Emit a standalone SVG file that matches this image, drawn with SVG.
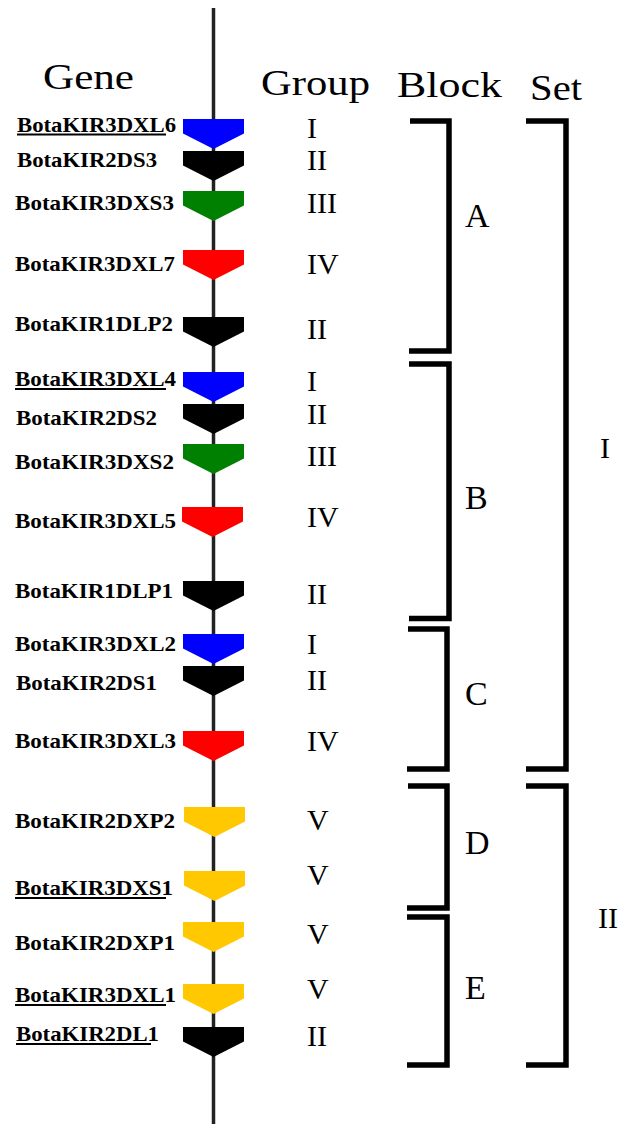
<svg xmlns="http://www.w3.org/2000/svg" xmlns:xlink="http://www.w3.org/1999/xlink" width="624" height="1124" viewBox="0 0 624 1124">
<style>
.hdr{font-family:"Liberation Serif","Times New Roman",serif;font-size:36px;fill:#000}
.lbl{font-family:"Liberation Serif","Times New Roman",serif;font-size:21px;font-weight:bold;fill:#000}
.grp{font-family:"Liberation Serif","Times New Roman",serif;font-size:30px;fill:#000}
.blk{font-family:"Liberation Serif","Times New Roman",serif;font-size:34px;fill:#000}
.ul{stroke:#000;stroke-width:2.2}
.br{fill:none;stroke:#000;stroke-width:5.5;stroke-linejoin:miter}
.axis{stroke:#222;stroke-width:3.5}
</style>
<defs>
<path id="arr" d="M-30.5,0 H30.5 V14.5 L0,30 L-30.5,14.5 Z"/>
</defs>
<rect width="624" height="1124" fill="#fff"/>
<g id="connectors">
<line class="axis" x1="213.5" y1="8" x2="213.5" y2="1124"/>
</g>
<g id="headers">
<text class="hdr" x="43" y="89" textLength="91" lengthAdjust="spacingAndGlyphs">Gene</text>
<text class="hdr" x="261" y="95" textLength="109" lengthAdjust="spacingAndGlyphs">Group</text>
<text class="hdr" x="397" y="97" textLength="105" lengthAdjust="spacingAndGlyphs">Block</text>
<text class="hdr" x="530" y="100" textLength="52" lengthAdjust="spacingAndGlyphs">Set</text>
</g>
<g id="g1"><use xlink:href="#arr" transform="translate(213.5,119)" fill="#0000FF"/><text class="lbl" x="17" y="132" textLength="159" lengthAdjust="spacingAndGlyphs">BotaKIR3DXL6</text><line class="ul" x1="17" y1="134.5" x2="166" y2="134.5"/><text class="grp" x="307" y="138">I</text></g>
<g id="g2"><use xlink:href="#arr" transform="translate(213.5,151)" fill="#000"/><text class="lbl" x="17" y="167" textLength="140" lengthAdjust="spacingAndGlyphs">BotaKIR2DS3</text><text class="grp" x="307" y="170">II</text></g>
<g id="g3"><use xlink:href="#arr" transform="translate(213.5,191)" fill="#008000"/><text class="lbl" x="15" y="210" textLength="159" lengthAdjust="spacingAndGlyphs">BotaKIR3DXS3</text><text class="grp" x="307" y="213">III</text></g>
<g id="g4"><use xlink:href="#arr" transform="translate(213.5,250)" fill="#FF0000"/><text class="lbl" x="15" y="271" textLength="160" lengthAdjust="spacingAndGlyphs">BotaKIR3DXL7</text><text class="grp" x="307" y="274">IV</text></g>
<g id="g5"><use xlink:href="#arr" transform="translate(213.5,317)" fill="#000"/><text class="lbl" x="15" y="331" textLength="158" lengthAdjust="spacingAndGlyphs">BotaKIR1DLP2</text><text class="grp" x="307" y="339">II</text></g>
<g id="g6"><use xlink:href="#arr" transform="translate(213.5,372)" fill="#0000FF"/><text class="lbl" x="15" y="386" textLength="161" lengthAdjust="spacingAndGlyphs">BotaKIR3DXL4</text><line class="ul" x1="15" y1="389" x2="166" y2="389"/><text class="grp" x="307" y="391">I</text></g>
<g id="g7"><use xlink:href="#arr" transform="translate(213.5,404)" fill="#000"/><text class="lbl" x="16" y="425" textLength="141" lengthAdjust="spacingAndGlyphs">BotaKIR2DS2</text><text class="grp" x="307" y="424">II</text></g>
<g id="g8"><use xlink:href="#arr" transform="translate(213.5,444)" fill="#008000"/><text class="lbl" x="15" y="469" textLength="159" lengthAdjust="spacingAndGlyphs">BotaKIR3DXS2</text><text class="grp" x="307" y="466">III</text></g>
<g id="g9"><use xlink:href="#arr" transform="translate(212.5,507)" fill="#FF0000"/><text class="lbl" x="15" y="528" textLength="161" lengthAdjust="spacingAndGlyphs">BotaKIR3DXL5</text><text class="grp" x="307" y="527">IV</text></g>
<g id="g10"><use xlink:href="#arr" transform="translate(213.5,581)" fill="#000"/><text class="lbl" x="15" y="598" textLength="158" lengthAdjust="spacingAndGlyphs">BotaKIR1DLP1</text><text class="grp" x="307" y="604">II</text></g>
<g id="g11"><use xlink:href="#arr" transform="translate(213.5,634)" fill="#0000FF"/><text class="lbl" x="15" y="651" textLength="161" lengthAdjust="spacingAndGlyphs">BotaKIR3DXL2</text><text class="grp" x="307" y="654">I</text></g>
<g id="g12"><use xlink:href="#arr" transform="translate(213.5,666)" fill="#000"/><text class="lbl" x="16" y="690" textLength="141" lengthAdjust="spacingAndGlyphs">BotaKIR2DS1</text><text class="grp" x="307" y="690">II</text></g>
<g id="g13"><use xlink:href="#arr" transform="translate(213.5,731)" fill="#FF0000"/><text class="lbl" x="15" y="748" textLength="161" lengthAdjust="spacingAndGlyphs">BotaKIR3DXL3</text><text class="grp" x="307" y="751">IV</text></g>
<g id="g14"><use xlink:href="#arr" transform="translate(214.5,807)" fill="#FFC800"/><text class="lbl" x="15" y="828" textLength="160" lengthAdjust="spacingAndGlyphs">BotaKIR2DXP2</text><text class="grp" x="307" y="830">V</text></g>
<g id="g15"><use xlink:href="#arr" transform="translate(214.5,871)" fill="#FFC800"/><text class="lbl" x="15" y="895" textLength="158" lengthAdjust="spacingAndGlyphs">BotaKIR3DXS1</text><line class="ul" x1="15" y1="898" x2="166" y2="898"/><text class="grp" x="307" y="885">V</text></g>
<g id="g16"><use xlink:href="#arr" transform="translate(213.5,922)" fill="#FFC800"/><text class="lbl" x="15" y="950" textLength="160" lengthAdjust="spacingAndGlyphs">BotaKIR2DXP1</text><text class="grp" x="307" y="944">V</text></g>
<g id="g17"><use xlink:href="#arr" transform="translate(213.5,984)" fill="#FFC800"/><text class="lbl" x="15" y="1002" textLength="161" lengthAdjust="spacingAndGlyphs">BotaKIR3DXL1</text><line class="ul" x1="15" y1="1005" x2="166" y2="1005"/><text class="grp" x="307" y="999">V</text></g>
<g id="g18"><use xlink:href="#arr" transform="translate(213.5,1027)" fill="#000"/><text class="lbl" x="16" y="1041" textLength="143" lengthAdjust="spacingAndGlyphs">BotaKIR2DL1</text><line class="ul" x1="16" y1="1044" x2="151" y2="1044"/><text class="grp" x="307" y="1046">II</text></g>
<g id="blockA"><path class="br" d="M410,121 H449 V351 H409"/><text class="blk" x="465" y="227">A</text></g>
<g id="blockB"><path class="br" d="M409,364 H449 V618.5 H409"/><text class="blk" x="465" y="509">B</text></g>
<g id="blockC"><path class="br" d="M408,629 H447 V769 H407"/><text class="blk" x="465" y="705">C</text></g>
<g id="blockD"><path class="br" d="M408,786 H447 V908 H407"/><text class="blk" x="465" y="854">D</text></g>
<g id="blockE"><path class="br" d="M407,917 H447 V1065 H407"/><text class="blk" x="465" y="999">E</text></g>
<g id="setI"><path class="br" d="M526,121 H566 V769 H526"/><text class="grp" x="600" y="458">I</text></g>
<g id="setII"><path class="br" d="M526,786 H566 V1065 H526"/><text class="grp" x="598" y="928">II</text></g>
</svg>
